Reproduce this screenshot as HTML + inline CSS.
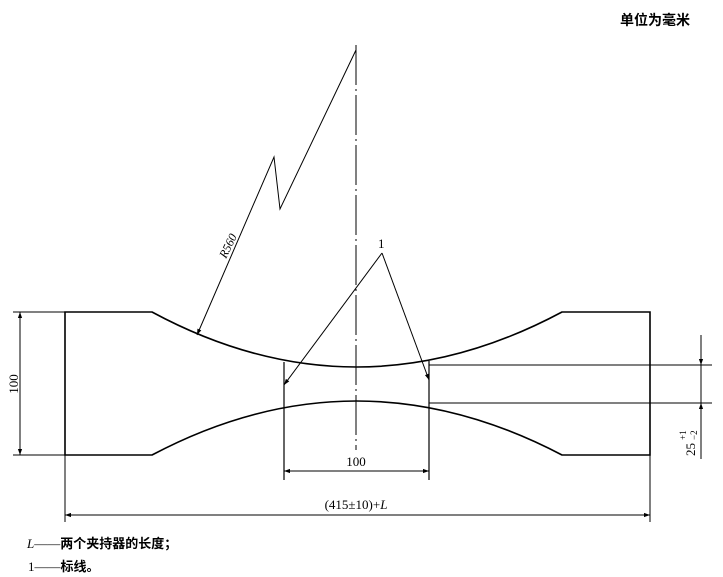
<!DOCTYPE html>
<html><head><meta charset="utf-8"><style>
html,body{margin:0;padding:0;background:#fff;}
svg{display:block;}
text{font-family:"Liberation Serif","Noto Serif CJK SC",serif;fill:#000;}
.cj{font-family:"Liberation Sans","Noto Sans CJK SC",sans-serif;font-weight:bold;}
</style></head><body>
<svg width="723" height="577" viewBox="0 0 723 577" xmlns="http://www.w3.org/2000/svg">
<defs>
<marker id="a" viewBox="0 0 10 10" refX="10" refY="5" markerWidth="9" markerHeight="6" orient="auto-start-reverse" markerUnits="userSpaceOnUse"><path d="M0,1.5 L10,5 L0,8.5 z" fill="#000"/></marker>
</defs>
<text x="620" y="25" class="cj" font-size="14">单位为毫米</text>
<g fill="none" stroke="#000">
<path d="M65,312 L152,312 Q356,422 562,312 L650,312 L650,455 L562,455 Q356,347 152,455 L65,455 Z" stroke-width="1.6"/>
<line x1="356" y1="45" x2="356" y2="450" stroke-width="1" stroke-dasharray="40,4,2,4"/>
<line x1="284" y1="362" x2="284" y2="480" stroke-width="1.2"/>
<line x1="429" y1="361" x2="429" y2="480" stroke-width="1.2"/>
<line x1="284" y1="471" x2="429" y2="471" stroke-width="1" marker-start="url(#a)" marker-end="url(#a)"/>
<line x1="65" y1="455" x2="65" y2="522" stroke-width="1"/>
<line x1="650" y1="455" x2="650" y2="522" stroke-width="1"/>
<line x1="65" y1="515" x2="650" y2="515" stroke-width="1" marker-start="url(#a)" marker-end="url(#a)"/>
<line x1="13" y1="312" x2="65" y2="312" stroke-width="1"/>
<line x1="13" y1="455" x2="65" y2="455" stroke-width="1"/>
<line x1="20" y1="312" x2="20" y2="455" stroke-width="1" marker-start="url(#a)" marker-end="url(#a)"/>
<line x1="429" y1="365" x2="712" y2="365" stroke-width="1"/>
<line x1="429" y1="403" x2="712" y2="403" stroke-width="1"/>
<line x1="701" y1="335" x2="701" y2="459" stroke-width="1"/>
<line x1="701" y1="345" x2="701" y2="365" stroke-width="1" marker-end="url(#a)"/>
<line x1="701" y1="423" x2="701" y2="403" stroke-width="1" marker-end="url(#a)"/>
<polyline points="356,50 280,209 274,157 197,335" stroke-width="1" marker-end="url(#a)"/>
<line x1="382" y1="253" x2="284" y2="385" stroke-width="1" marker-end="url(#a)"/>
<line x1="382" y1="253" x2="429" y2="380" stroke-width="1" marker-end="url(#a)"/>
</g>
<text x="378" y="248" font-size="13">1</text>
<text x="0" y="0" font-size="12" font-style="italic" transform="translate(226,259) rotate(-64)">R560</text>
<text x="356" y="466" font-size="13" text-anchor="middle">100</text>
<text x="356" y="509" font-size="13" text-anchor="middle">(415±10)+<tspan font-style="italic">L</tspan></text>
<text x="0" y="0" font-size="13" text-anchor="middle" transform="translate(18,384) rotate(-90)">100</text>
<text x="0" y="0" font-size="13" transform="translate(695,456) rotate(-90)">25</text>
<text x="0" y="0" font-size="9" transform="translate(686,440) rotate(-90)">+1</text>
<text x="0" y="0" font-size="9" transform="translate(697,440) rotate(-90)">−2</text>
<text x="27" y="548" font-size="13"><tspan font-style="italic">L</tspan>——<tspan class="cj">两个夹持器的长度；</tspan></text>
<text x="28" y="571" font-size="13">1——<tspan class="cj">标线。</tspan></text>
</svg>
</body></html>
